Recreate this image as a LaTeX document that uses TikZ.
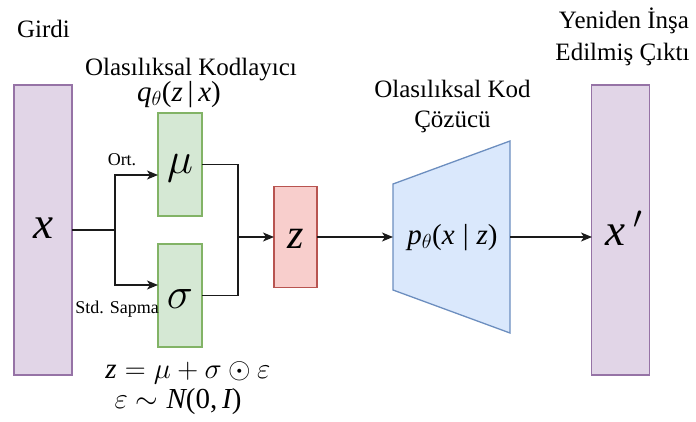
\documentclass[tikz,border=0pt]{standalone}
\usepackage{fix-cm}
\usepackage{fontspec}
\setmainfont{Liberation Serif}
\usetikzlibrary{arrows.meta}
\definecolor{purF}{HTML}{E1D5E7}\definecolor{purD}{HTML}{9673A6}
\definecolor{grnF}{HTML}{D5E8D4}\definecolor{grnD}{HTML}{82B366}
\definecolor{redF}{HTML}{F8CECC}\definecolor{redD}{HTML}{B85450}
\definecolor{bluF}{HTML}{DAE8FC}\definecolor{bluD}{HTML}{6C8EBF}
\definecolor{ln}{HTML}{1A1A1A}
\newcommand{\iv}[1]{\textit{#1}}
\tikzset{
  box/.style={draw, line width=1.3pt, inner sep=0pt, outer sep=0pt, rectangle},
  purbox/.style={box, fill=purF, draw=purD, minimum width=58pt, minimum height=290pt},
  grnbox/.style={box, fill=grnF, draw=grnD, minimum width=44pt, minimum height=103pt},
  redbox/.style={box, fill=redF, draw=redD, minimum width=43pt, minimum height=101pt},
  conn/.style={draw=ln, line width=1.4pt},
  arr/.style={conn, -{Stealth[length=11pt,width=9pt,inset=3pt]}},
  lbl/.style={inner sep=0pt, anchor=base, font=\fontsize{25}{28}\selectfont},
  small/.style={inner sep=0pt, anchor=base, font=\fontsize{18}{20}\selectfont},
  mth/.style={inner sep=0pt, anchor=base},
}
\begin{document}
\begin{tikzpicture}[x=1pt,y=-1pt]
\useasboundingbox (0,0) rectangle (696,421);
% boxes
\node[purbox] (in) at (43,230) {};
\node[grnbox] (mu) at (180,164.5) {};
\node[grnbox] (sig) at (180,295.5) {};
\node[redbox] (z) at (295.5,237) {};
\node[purbox] (out) at (620.5,230) {};
% decoder trapezoid
\coordinate (dtl) at (393,184);
\coordinate (dbl) at (393,290);
\coordinate (dtr) at (510,141);
\coordinate (dbr) at (510,333);
\draw[fill=bluF, draw=bluD, line width=1.3pt] (dtl) -- (dtr) -- (dbr) -- (dbl) -- cycle;
\coordinate (din) at (393,237);
\coordinate (dout) at (510,237);
% inner labels
\node[mth, font=\fontsize{45}{48}\selectfont] (xl) at (43,238) {\iv{x}};
\node[mth, font=\fontsize{44}{48}\selectfont] (mul) at (180,173) {$\mu$};
\node[mth, font=\fontsize{44}{48}\selectfont] (sigl) at (180,308) {$\sigma$};
\node[mth, font=\fontsize{42}{46}\selectfont] (zl) at (295.5,248) {\iv{z}};
\node[mth, font=\fontsize{29}{32}\selectfont] (pl) at (452.5,244) {\iv{p}$_\theta$(\iv{x}\;|\;\iv{z})};
\node[mth, font=\fontsize{45}{48}\selectfont] (xpl) at (624,245) {\iv{x}$\,^{\prime}$};
% titles
\node[lbl] (girdi) at (43.5,37) {Girdi};
\node[lbl] (enc) at (191,75) {Olasılıksal Kodlayıcı};
\node[mth, font=\fontsize{29}{32}\selectfont] (q) at (179,101) {\iv{q}$_\theta$(\iv{z}\,|\,\iv{x})};
\node[lbl] (dec1) at (452.5,97) {Olasılıksal Kod};
\node[lbl] (dec2) at (452.5,127) {Çözücü};
\node[lbl] (out1) at (624,28) {Yeniden İnşa};
\node[lbl] (out2) at (622.5,60) {Edilmiş Çıktı};
\node[small] (ort) at (122,165) {Ort.};
\node[small] (std) at (117,313) {Std. Sapma};
\node[mth, font=\fontsize{29}{32}\selectfont] (eq1) at (188,378) {$\textit{z}=\mu+\sigma\odot\varepsilon$};
\node[mth, font=\fontsize{29}{32}\selectfont] (eq2) at (178,408) {$\varepsilon\sim\textit{N}\textup{(0,}\,\textit{I}\textup{)}$};
% connectors
\coordinate (br) at (115,230);
\coordinate (bt) at (115,175);
\coordinate (bb) at (115,285);
\coordinate (jn) at (238,237);
\coordinate (outin) at (592,237);
\draw[conn] (in.east |- br) -- (br);
\draw[arr] (br) -- (bt) -- (mu.west |- bt);
\draw[arr] (br) -- (bb) -- (sig.west |- bb);
\draw[conn] (mu.east) -| (jn);
\draw[conn] (sig.east) -| (jn);
\draw[arr] (jn) -- (z.west);
\draw[arr] (z.east) -- (din);
\draw[arr] (dout) -- (outin);
\end{tikzpicture}
\end{document}
